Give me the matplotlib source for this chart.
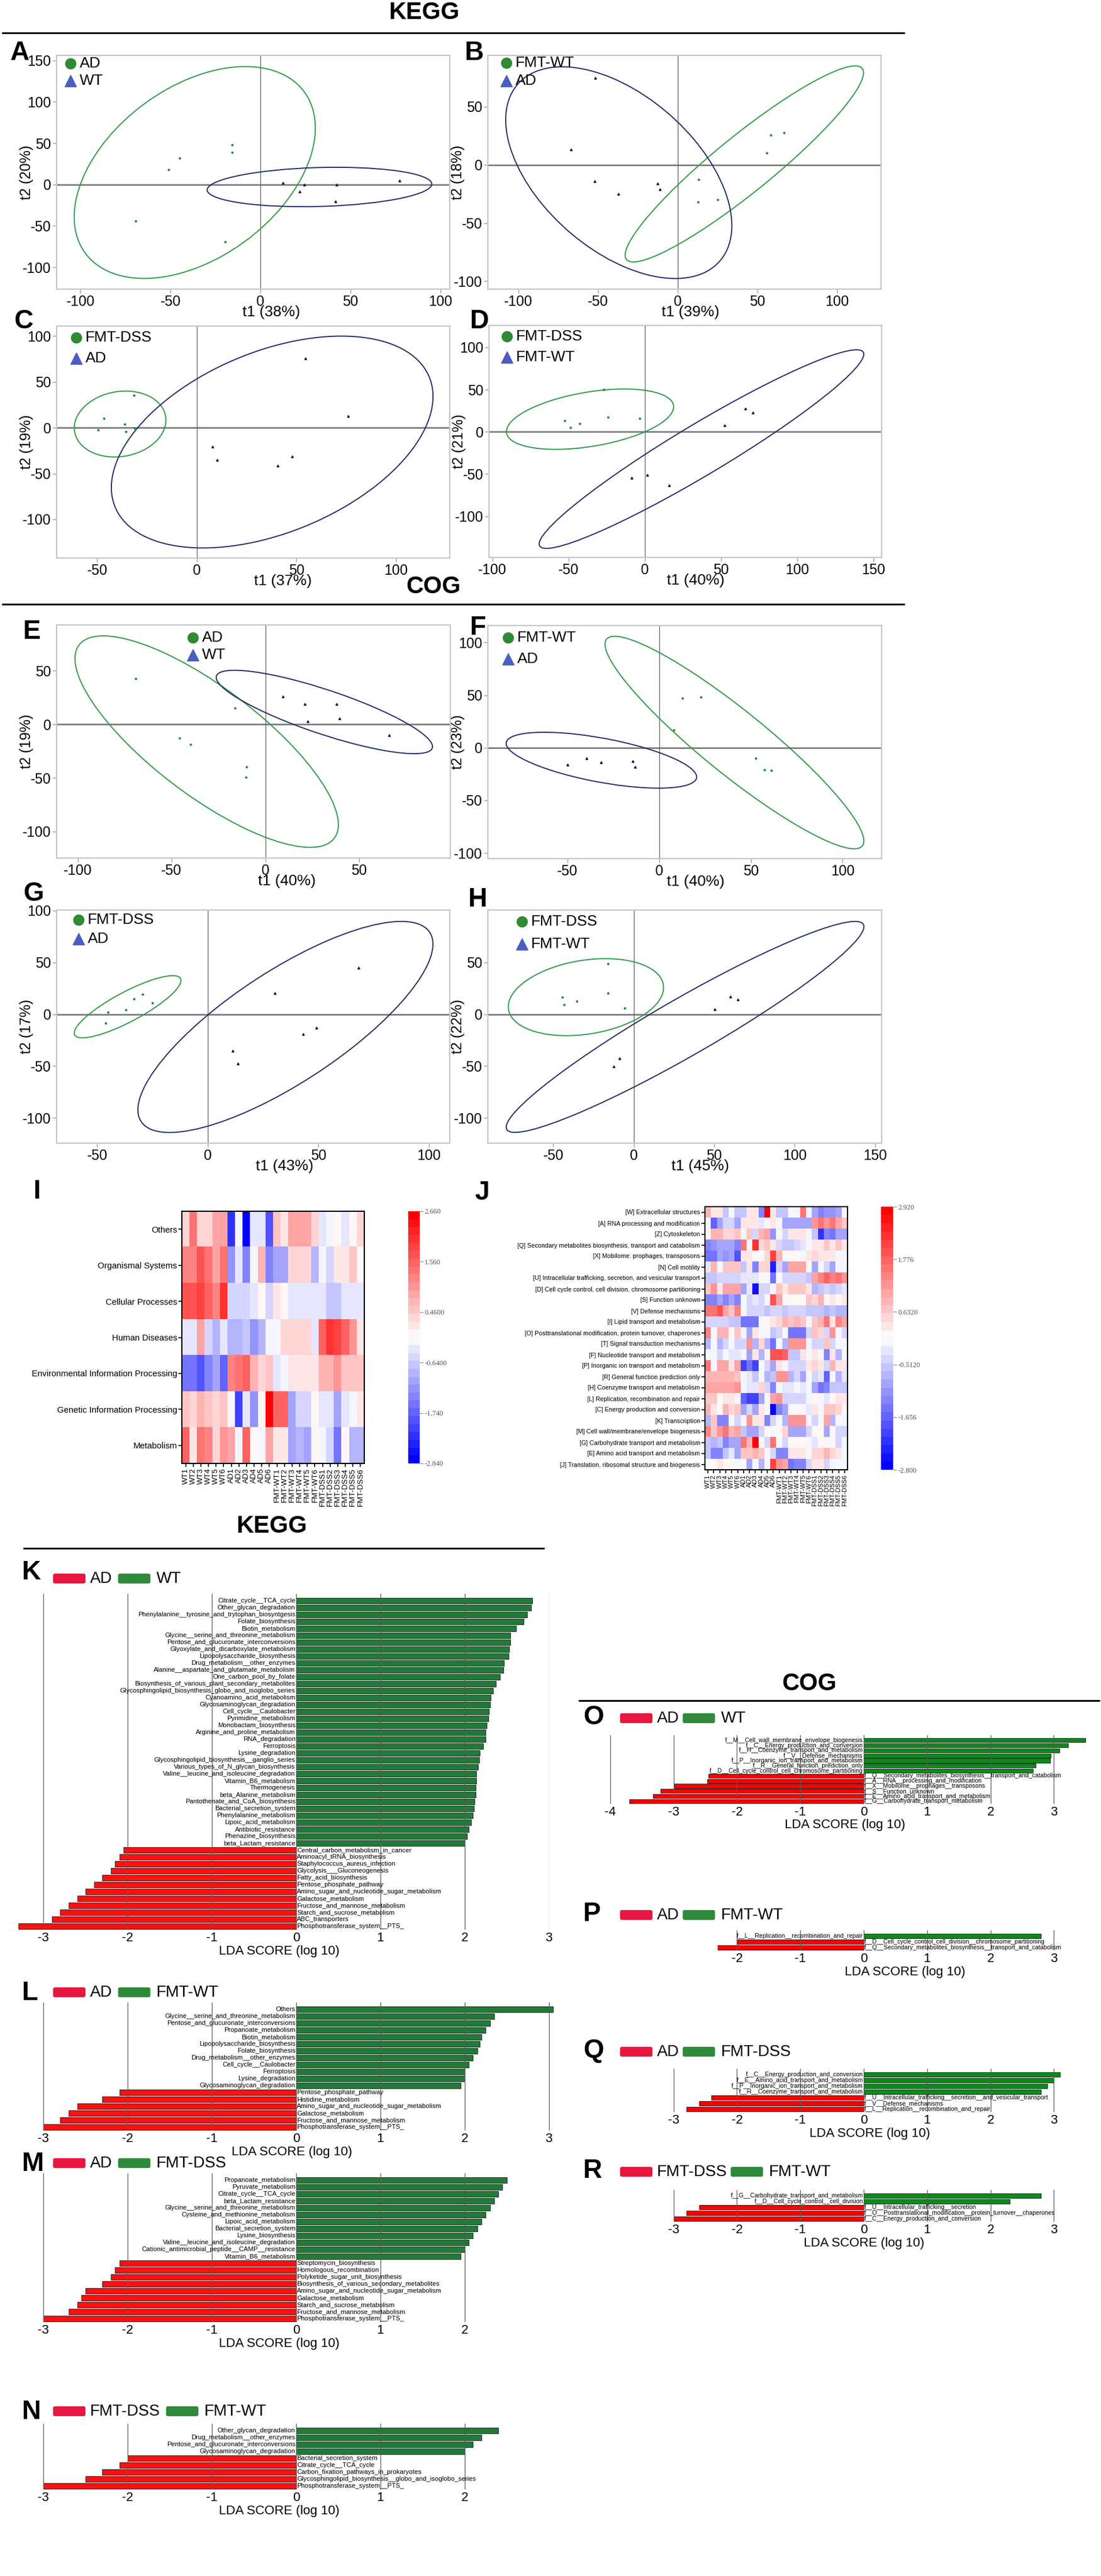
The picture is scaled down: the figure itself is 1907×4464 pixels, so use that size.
import numpy as np
import matplotlib
matplotlib.use("Agg")
import matplotlib.pyplot as plt
from matplotlib import font_manager
from matplotlib.patches import Ellipse, FancyBboxPatch

W, H = 1907, 4464
font_names = set(f.name for f in font_manager.fontManager.ttflist)
if 'Liberation Sans Narrow' in font_names:
    NARROW = ['Liberation Sans Narrow', 'DejaVu Sans']
    SHRINK = 1.0
else:
    NARROW = ['Liberation Sans', 'DejaVu Sans']
    SHRINK = 0.86
SANS = ['Liberation Sans', 'DejaVu Sans']
SERIF = ['Liberation Serif', 'DejaVu Serif']
plt.rcParams['font.family'] = NARROW
plt.rcParams['axes.unicode_minus'] = False

# ===================== PCA DATA =====================
# each panel: green group, blue group, ellipses (cx, cy, rx, ry, rho)
a_names = ['AD', 'WT']
a_gx = [-15.9, -15.9, -44.8, -51.1, -69.5, -19.5]
a_gy = [47.9, 38.6, 31.7, 17.7, -43.8, -69.2]
a_bx = [12.5, 24.5, 42.4, 77.4, 21.8, 41.6]
a_by = [1.6, -0.2, -0.4, 4.8, -8.7, -20.4]
a_gell = [-36.5, 14.5, 67, 128, 0.42]
a_bell = [32.8, -3, 62.4, 23.8, 0.15]

b_names = ['FMT-WT', 'AD']
b_gx = [58.4, 66.9, 55.8, 13.1, 12.6, 25.1]
b_gy = [25.5, 27.8, 10.3, -12.5, -32, -29.9]
b_bx = [-51.7, -66.9, -52.2, -37.4, -12.6, -11.1]
b_by = [74.6, 13.1, -14.1, -25.1, -16.1, -20.9]
b_gell = [41.85, 0.8, 74.85, 84.2, 0.93]
b_bell = [-37, -6.7, 71, 90.9, -0.5]

c_names = ['FMT-DSS', 'AD']
c_gx = [-31.7, -46.6, -36.3, -31.2, -49.5, -35.6]
c_gy = [35.4, 10.1, 3.8, -0.8, -2.2, -4.5]
c_bx = [54.4, 76, 8, 10.2, 47.8, 40.7]
c_by = [75.9, 12.9, -20.8, -35.4, -31.3, -41.3]
c_gell = [-38.5, 4, 23, 36, 0.12]
c_bell = [37.85, -15.65, 80.75, 115.65, 0.43]

d_names = ['FMT-DSS', 'FMT-WT']
d_gx = [-26.7, -24.1, -3.1, -52.6, -48.6, -42.6]
d_gy = [50.1, 16.9, 16.2, 13.3, 4.9, 9.8]
d_bx = [66.1, 70.8, 52.3, -8.5, 1.5, 16]
d_by = [27.3, 22.7, 7.8, -54.2, -51.3, -63.1]
d_gell = [-35.85, 14.9, 54.85, 35.7, 0.41]
d_bell = [37.25, -20.5, 106.45, 117.5, 0.955]

e_names = ['AD', 'WT']
e_gx = [-69.1, -16.3, -45.8, -39.8, -9.9, -10.2]
e_gy = [42.7, 15.4, -12.6, -18.7, -39.9, -49.5]
e_bx = [9.5, 21, 37.9, 22.7, 39.6, 66]
e_by = [25.8, 19.1, 18.9, 3, 5.5, -10.3]
e_gell = [-31.3, -16.15, 70.2, 98.65, -0.785]
e_bell = [31.45, 11.5, 57.65, 38.9, -0.83]

f_names = ['FMT-WT', 'AD']
f_gx = [12.5, 22.8, 8, 52.5, 57.3, 61.2]
f_gy = [47.1, 48.1, 16.9, -10.2, -20.7, -21.3]
f_bx = [-39.7, -31.8, -14.3, -50, -13.2]
f_by = [-10.2, -13.7, -12.9, -16.1, -18.2]
f_gell = [41, 4.95, 70.6, 100.95, -0.925]
f_bell = [-31.55, -11.85, 51.95, 26.55, -0.6]

g_names = ['FMT-DSS', 'AD']
g_gx = [-29.5, -33.4, -25.1, -37.1, -45.1, -46.3]
g_gy = [19.2, 15, 10.7, 4.2, 2.2, -8.8]
g_bx = [68.3, 30.4, 49.1, 43.2, 11.2, 13.5]
g_by = [44.9, 20.5, -12.8, -19, -35.1, -47.4]
g_gell = [-36.25, 7.2, 24.15, 30, 0.845]
g_bell = [35.15, -12.3, 66.75, 101.8, 0.785]

h_names = ['FMT-DSS', 'FMT-WT']
h_gx = [-16, -16.2, -44.3, -43.4, -35.4, -5.6]
h_gy = [49, 20.1, 16.7, 9.2, 12.4, 5.6]
h_bx = [59.9, 64.5, 50.4, -8.9, -12.4]
h_by = [16.9, 14.2, 5, -42.7, -50.4]
h_gell = [-29.75, 16.45, 48.25, 37.15, 0.25]
h_bell = [31.85, -12.25, 111.15, 101.75, 0.95]

# ===================== HEATMAP DATA =====================
samples = ['WT1', 'WT2', 'WT3', 'WT4', 'WT5', 'WT6', 'AD1', 'AD2', 'AD3', 'AD4', 'AD5', 'AD6',
           'FMT-WT1', 'FMT-WT2', 'FMT-WT3', 'FMT-WT4', 'FMT-WT5', 'FMT-WT6',
           'FMT-DSS1', 'FMT-DSS2', 'FMT-DSS3', 'FMT-DSS4', 'FMT-DSS5', 'FMT-DSS6']

kegg_rows = ['Others', 'Organismal Systems', 'Cellular Processes', 'Human Diseases',
             'Environmental Information Processing', 'Genetic Information Processing', 'Metabolism']
i_others = [0.4, 1.3, 0.4, 0.4, 0.9, 0.9, -2.2, -0.1, -2.8, -0.3, -0.4, -1.9, 0.5, 0.1, 0.9, 0.9, 0.9, 0.4, -0.3, -0.1, 0.05, -0.3, 0.05, 0.3]
i_organismal = [1.2, 1.2, 1.8, 1.4, 0.9, 1.4, -1.2, -0.4, -1.3, -0.2, 0.7, -1.3, -1.0, -1.0, 0.3, 0.3, 0.3, -0.8, -0.2, -0.5, 0.2, 0.1, 0.5, 0.0]
i_cellular = [1.7, 1.7, 1.9, 1.5, 1.2, 2.0, -0.6, -0.6, -0.6, -0.3, 0.0, -0.6, 0.2, 0.05, -0.3, -0.3, -0.4, -0.3, -0.4, -0.7, -0.7, -0.3, -0.4, -0.4]
i_human = [-0.4, -0.3, 0.9, -0.6, -0.9, -0.3, -0.9, -0.9, -0.7, -1.2, -0.9, -0.2, -0.1, 0.3, 0.3, 0.3, 0.3, -0.3, 1.6, 2.1, 1.9, 1.6, 1.1, 0.2]
i_env = [-1.6, -1.6, -1.9, -1.3, -1.1, -1.8, 1.2, 1.3, 1.6, 0.6, 0.4, 0.5, -0.3, -0.2, 0.1, 0.2, 0.2, 0.1, 0.6, 0.7, 1.1, 0.5, 0.5, 0.5]
i_genetic = [0.5, 0.4, 0.7, 0.5, 0.3, 0.5, -0.2, -2.1, -0.4, -1.2, 0.0, 2.66, 1.5, 1.5, -1.0, -0.6, -0.6, 0.05, -0.3, -0.3, -1.0, -0.3, -0.1, 0.1]
i_metab = [1.5, 0.2, 1.3, 1.2, 0.3, 1.0, 0.9, -0.2, 1.6, 0.05, -0.2, 0.9, 0.1, 0.1, -1.0, -0.9, -1.0, 0.0, -0.2, -0.5, -1.6, 0.0, -0.9, -0.8]
i_ticks = [2.66, 1.56, 0.46, -0.64, -1.74, -2.84]
i_tick_text = ['2.660', '1.560', '0.4600', '-0.6400', '-1.740', '-2.840']

cog_rows = ['[W] Extracellular structures', '[A] RNA processing and modification', '[Z] Cytoskeleton',
            '[Q] Secondary metabolites biosynthesis, transport and catabolism',
            '[X] Mobilome: prophages, transposons', '[N] Cell motility',
            '[U] Intracellular trafficking, secretion, and vesicular transport',
            '[D] Cell cycle control, cell division, chromosome partitioning', '[S] Function unknown',
            '[V] Defense mechanisms', '[I] Lipid transport and metabolism',
            '[O] Posttranslational modification, protein turnover, chaperones',
            '[T] Signal transduction mechanisms', '[F] Nucleotide transport and metabolism',
            '[P] Inorganic ion transport and metabolism', '[R] General function prediction only',
            '[H] Coenzyme transport and metabolism', '[L] Replication, recombination and repair',
            '[C] Energy production and conversion', '[K] Transcription',
            '[M] Cell wall/membrane/envelope biogenesis', '[G] Carbohydrate transport and metabolism',
            '[E] Amino acid transport and metabolism', '[J] Translation, ribosomal structure and biogenesis']
j_w = [0.9, 0.3, 0.3, -0.6, 0.0, -0.5, -0.5, 0.3, 0.4, -1.2, 2.9, 0.4, -0.5, -0.5, 0.0, 0.0, 1.5, 0.0, -1.0, -1.2, -1.1, -1.1, -0.9, 0.0]
j_a = [0.0, -1.6, -1.0, -0.3, -0.3, -0.9, 0.3, 0.4, 0.3, -0.2, 0.0, 0.3, 0.0, -0.9, -1.0, -1.0, -1.0, -0.9, 1.3, 1.6, 1.2, 1.5, 1.1, 0.6]
j_z = [0.0, 0.9, 0.9, 0.5, 0.5, 0.6, 0.0, 0.6, -0.4, 0.8, 1.0, -1.1, 0.0, -0.3, 0.3, 0.4, 0.3, 0.0, -0.6, -2.2, -1.3, -1.4, -1.0, -1.0]
j_q = [-1.3, -1.1, -0.9, -0.9, -1.0, -1.3, 1.5, 0.0, 2.3, 0.5, 0.7, 0.3, -0.4, -0.6, -0.6, -0.3, -0.2, 0.0, 0.3, 0.3, 0.6, 0.3, 0.7, 0.3]
j_x = [-1.5, -1.4, -1.0, -1.1, -1.0, -1.8, 0.3, 0.3, 0.1, 0.1, 0.5, 2.2, 0.8, 0.1, 0.1, 0.1, 0.0, 0.4, 0.5, 0.3, 0.3, 0.3, 0.0, 0.0]
j_n = [-0.2, 0.8, 0.0, 0.6, 0.6, 0.6, -0.5, 0.3, -1.2, 0.5, 0.5, -2.3, -0.3, -0.9, 1.0, 1.0, 1.0, 0.2, -0.9, 0.0, -0.3, -0.9, 0.0, 0.0]
j_u = [-0.5, -0.5, -0.3, -0.3, -0.4, -0.4, -0.2, -0.2, -0.2, 0.0, 0.0, -1.5, 0.0, -0.3, -0.3, -0.3, -0.3, -0.5, 1.0, 1.4, 1.7, 1.4, 1.5, 1.2]
j_d = [0.7, 1.2, 0.4, 1.0, 1.0, 1.0, -1.0, -0.2, -2.5, -0.4, -0.4, 0.0, 0.6, 0.3, 0.6, 0.6, 0.6, 0.3, -0.7, -0.5, -0.4, -0.5, -0.4, -0.2]
j_s = [-1.2, -1.2, -1.0, -1.3, -1.0, -1.2, 0.0, -0.3, -0.2, -0.4, 0.0, 2.0, 1.0, 0.2, 0.1, 0.1, 0.1, 0.6, 0.5, 0.8, 0.1, 0.3, 0.1, 0.4]
j_v = [1.6, 1.6, 1.9, 1.0, 0.7, 1.4, 0.0, -0.3, -0.4, -0.4, -0.6, -0.4, -0.4, -0.6, -0.4, -0.4, -0.4, -0.6, -0.6, -0.6, -0.8, -0.5, -0.8, -0.8]
j_i = [-0.3, -0.3, -0.3, -0.3, -0.5, -0.5, -1.4, -1.4, -1.4, 0.0, 0.2, 0.3, 0.5, 0.8, 0.6, 0.9, 0.6, 0.0, 0.6, 0.8, 1.6, 0.4, 1.4, 1.0]
j_o = [1.4, 0.0, 0.9, 0.9, 0.1, 0.6, 0.0, -1.0, 0.4, 0.0, 0.0, -0.5, -0.4, 0.0, -1.4, -1.4, -1.4, -0.4, 0.6, 0.5, -0.3, 1.2, 0.0, -0.4]
j_t = [-0.7, 0.0, -0.8, -0.4, 0.0, -0.3, -0.3, 1.3, -0.8, 0.5, -0.8, -1.5, 0.0, -0.8, 1.3, 1.3, 1.3, 0.0, -0.4, -0.4, 0.7, -0.4, 0.0, 0.0]
j_f = [0.0, 0.0, -0.3, 0.0, -0.2, -0.2, 0.0, -0.9, 0.3, -0.8, 0.0, 2.0, 2.0, 1.8, -0.6, -0.5, 0.3, 0.0, 0.3, 0.0, -1.3, 0.3, -0.7, 0.0]
j_p = [1.5, 0.0, 1.0, 1.0, 0.3, 1.0, -2.0, -1.5, -2.0, 0.0, -0.3, -0.9, 0.3, 0.0, -0.3, -0.3, -0.3, 0.3, 0.5, 0.3, -0.4, 0.8, 0.4, 0.4]
j_r = [0.8, 0.8, 0.9, 0.9, 0.8, 0.7, -0.1, -0.2, -0.5, 0.0, -0.8, -0.5, 1.3, 1.3, -0.8, -0.4, -0.9, 0.0, -0.3, -0.2, -1.6, 0.0, -0.8, -0.2]
j_h = [1.0, 1.0, 1.0, 1.0, 1.0, 1.3, 0.0, -0.2, -0.2, 0.5, -0.4, -1.3, 0.0, -0.2, -0.2, 0.0, -0.2, 0.0, -1.0, -1.4, -1.3, -0.6, -0.6, -0.6]
j_l = [0.6, 0.6, 0.1, 0.3, 0.4, 0.0, -1.6, -2.0, -2.0, -1.0, 0.0, 1.1, 1.3, -0.3, -0.3, -0.3, -0.3, 0.0, 0.2, 0.0, -0.2, 0.2, 0.4, 0.3]
j_c = [0.9, 0.4, 0.2, 0.9, 0.5, 0.7, -1.0, -0.4, -0.9, 0.3, 0.2, -2.8, -1.2, -1.0, 0.0, 0.2, 0.0, -0.2, 0.3, 0.0, 0.6, 0.6, 0.5, 0.2]
j_k = [-0.8, 0.6, -1.2, -1.2, 0.0, -0.3, 0.0, 1.3, 0.3, 0.3, -1.2, -0.4, 0.0, -0.8, 1.3, 1.3, 1.3, 0.0, -0.3, 0.0, 1.0, -0.7, 0.0, 0.0]
j_m = [1.4, 0.6, 1.3, 1.5, 0.8, 1.0, -0.5, -0.9, -0.9, -0.4, 0.2, 0.0, 0.1, 0.5, -1.0, -1.0, -1.0, -0.4, 0.1, 0.1, -0.9, 0.2, -0.3, -0.3]
j_g = [-0.5, -0.8, -0.5, -1.2, -1.0, -1.0, 1.5, 0.8, 2.9, 0.2, -0.3, 1.5, 0.0, -0.3, 0.1, 0.1, 0.1, 0.0, -0.2, 0.2, 0.0, 0.2, -0.3, 0.0]
j_e = [-0.5, -1.3, -1.3, -0.5, -0.2, -0.9, 0.7, 0.7, 0.9, 0.6, 0.0, -0.4, -1.2, -1.2, 0.3, 0.3, 0.3, 0.0, 0.5, 0.5, 0.9, 0.5, 0.4, 0.0]
j_j = [0.2, 0.2, 0.3, 0.1, 0.1, 0.0, 0.2, -1.0, 0.0, -0.8, 0.0, 2.2, 1.2, 1.0, -1.4, -1.2, -1.2, -0.4, 0.3, 0.3, -0.4, 0.0, 0.0, 0.0]
j_ticks = [2.92, 1.776, 0.632, -0.512, -1.656, -2.8]
j_tick_text = ['2.920', '1.776', '0.6320', '-0.5120', '-1.656', '-2.800']

# ===================== LEfSe DATA =====================
k_labels = ['Citrate_cycle__TCA_cycle', 'Other_glycan_degradation',
            'Phenylalanine__tyrosine_and_trytophan_biosyntgesis', 'Folate_biosynthesis', 'Biotin_metabolism',
            'Glycine__serine_and_threonine_metabolism', 'Pentose_and_glucuronate_interconversions',
            'Glyoxylate_and_dicarboxylate_metabolism', 'Lipopolysaccharide_biosynthesis',
            'Drug_metabolism__other_enzymes', 'Alanine__aspartate_and_glutamate_metabolism',
            'One_carbon_pool_by_folate', 'Biosynthesis_of_various_plant_secondary_metabolites',
            'Glycosphingolipid_biosynthesis_globo_and_isoglobo_series', 'Cyanoamino_acid_metabolism',
            'Glycosaminoglycan_degradation', 'Cell_cycle__Caulobacter', 'Pyrimidine_metabolism',
            'Monobactam_biosynthesis', 'Arginine_and_proline_metabolism', 'RNA_degradation', 'Ferroptosis',
            'Lysine_degradation', 'Glycosphingolipid_biosynthesis__ganglio_series',
            'Various_types_of_N_glycan_biosynthesis', 'Valine__leucine_and_isoleucine_degradation',
            'Vitamin_B6_metabolism', 'Thermogenesis', 'beta_Alanine_metabolism',
            'Pantothenate_and_CoA_biosynthesis', 'Bacterial_secretion_system', 'Phenylalanine_metabolism',
            'Lipoic_acid_metabolism', 'Antibiotic_resistance', 'Phenazine_biosynthesis', 'beta_Lactam_resistance',
            'Central_carbon_metabolism_in_cancer', 'Aminoacyl_tRNA_biosynthesis',
            'Staphylococcus_aureus_infection', 'Glycolysis___Gluconeogenesis', 'Fatty_acid_biosynthesis',
            'Pentose_phosphate_pathway', 'Amino_sugar_and_nucleotide_sugar_metabolism', 'Galactose_metabolism',
            'Fructose_and_mannose_metabolism', 'Starch_and_sucrose_metabolism', 'ABC_transporters',
            'Phosphotransferase_system__PTS_']
k_values = [2.80, 2.79, 2.74, 2.70, 2.61, 2.54, 2.54, 2.53, 2.52, 2.47, 2.46, 2.42, 2.37, 2.34, 2.31, 2.30,
            2.29, 2.28, 2.26, 2.25, 2.25, 2.22, 2.18, 2.17, 2.16, 2.14, 2.14, 2.13, 2.13, 2.12, 2.11, 2.10,
            2.08, 2.05, 2.03, 2.00,
            -2.05, -2.1, -2.15, -2.2, -2.3, -2.4, -2.5, -2.6, -2.7, -2.8, -2.9, -3.3]

l_labels = ['Others', 'Glycine__serine_and_threonine_metabolism', 'Pentose_and_glucuronate_interconversions',
            'Propanoate_metabolism', 'Biotin_metabolism', 'Lipopolysaccharide_biosynthesis', 'Folate_biosynthesis',
            'Drug_metabolism__other_enzymes', 'Cell_cycle__Caulobacter', 'Ferroptosis', 'Lysine_degradation',
            'Glycosaminoglycan_degradation',
            'Pentose_phosphate_pathway', 'Histidine_metabolism', 'Amino_sugar_and_nucleotide_sugar_metabolism',
            'Galactose_metabolism', 'Fructose_and_mannose_metabolism', 'Phosphotransferase_system__PTS_']
l_values = [3.05, 2.35, 2.3, 2.25, 2.2, 2.18, 2.15, 2.1, 2.05, 2.0, 2.0, 1.95,
            -2.1, -2.3, -2.6, -2.7, -2.8, -3.0]

m_labels = ['Propanoate_metabolism', 'Pyruvate_metabolism', 'Citrate_cycle__TCA_cycle', 'beta_Lactam_resistance',
            'Glycine__serine_and_threonine_metabolism', 'Cysteine_and_methionine_metabolism',
            'Lipoic_acid_metabolism', 'Bacterial_secretion_system', 'Lysine_biosynthesis',
            'Valine__leucine_and_isoleucine_degradation', 'Cationic_antimicrobial_peptide__CAMP__resistance',
            'Vitamin_B6_metabolism',
            'Streptomycin_biosynthesis', 'Homologous_recombination', 'Polyketide_sugar_unit_biosynthesis',
            'Biosynthesis_of_various_secondary_metabolites', 'Amino_sugar_and_nucleotide_sugar_metabolism',
            'Galactose_metabolism', 'Starch_and_sucrose_metabolism', 'Fructose_and_mannose_metabolism',
            'Phosphotransferase_system__PTS_']
m_values = [2.5, 2.45, 2.4, 2.35, 2.3, 2.25, 2.2, 2.15, 2.1, 2.05, 2.0, 1.95,
            -2.1, -2.15, -2.2, -2.3, -2.5, -2.55, -2.6, -2.7, -3.0]

n_labels = ['Other_glycan_degradation', 'Drug_metabolism__other_enzymes', 'Pentose_and_glucuronate_interconversions',
            'Glycosaminoglycan_degradation',
            'Bacterial_secretion_system', 'Citrate_cycle__TCA_cycle', 'Carbon_fixation_pathways_in_prokaryotes',
            'Glycosphingolipid_biosynthesis__globo_and_isoglobo_series', 'Phosphotransferase_system__PTS_']
n_values = [2.4, 2.2, 2.1, 2.0, -2.0, -2.1, -2.3, -2.5, -3.0]

o_labels = ['f__M__Cell_wall_membrane_envelope_biogenesis', 'f__C__Energy_production_and_conversion',
            'f__H__Coenzyme_transport_and_metabolism', 'f__V__Defense_mechanisms',
            'f__P__Inorganic_ion_transport_and_metabolism', 'f__R__General_function_prediction_only',
            'f__D__Cell_cycle_control_cell_chromosome_partitioning',
            'f__Q__Secondary_metabolites_biosynthesis__transport_and_catabolism',
            'f__A__RNA__processing_and_modification', 'f__X__Mobilome__prophages__transposons',
            'f__S__Function_unknown', 'f__E__Amino_acid_transport_and_metabolism',
            'f__G__Carbohydrate_transport_metabolism']
o_values = [3.50, 3.22, 3.09, 2.95, 2.94, 2.71, 2.67, -2.45, -2.47, -2.99, -3.21, -3.32, -3.70]

p_labels = ['f__L__Replication__recombination_and_repair',
            'f__D__Cell_cycle_control_cell_division__chromosome_partitioning',
            'f__Q__Secondary_metabolites_biosynthesis__transport_and_catabolism']
p_values = [2.8, -2.0, -2.4]

q_labels = ['f__C__Energy_production_and_conversion', 'f__E__Amino_acid_transport_and_metabolism',
            'f__P__Inorganic_ion_transport_and_metabolism', 'f__H__Coenzyme_transport_and_metabolism',
            'f__U__Intracellular_trafficking__secretion__and_vesicular_transport', 'f__V__Defense_mechanisms',
            'f__L__Replication__recombination_and_repair']
q_values = [3.1, 3.0, 2.9, 2.8, -2.4, -2.6, -2.8]

r_labels = ['f__G__Carbohydrate_transport_and_metabolism', 'f__D__Cell_cycle_control__cell_division',
            'f__U__Intracellular_trafficking__secretion', 'f__O__Posttranslational_modification__protein_turnover__chaperones',
            'f__C__Energy_production_and_conversion']
r_values = [2.8, 2.3, -2.6, -2.8, -3.0]

# ===================== FIGURE =====================
fig = plt.figure(figsize=(W / 100, H / 100), dpi=100)
bg = fig.add_axes([0, 0, 1, 1])
bg.set_xlim(0, W)
bg.set_ylim(H, 0)
bg.axis('off')
renderer = fig.canvas.get_renderer()


def box_px(x0, y0, x1, y1):
    return [x0 / W, 1 - y1 / H, (x1 - x0) / W, (y1 - y0) / H]


def letter(x, y, s):
    bg.text(x, y, s, fontsize=33, fontweight='bold', va='top', ha='left')


def section(x, y, s, x0, x1, yl):
    bg.text(x, y, s, fontsize=30, fontweight='bold', ha='center', va='center')
    bg.plot([x0, x1], [yl, yl], color='black', lw=2.2, solid_capstyle='butt')


def ellipse(p, color):
    cx, cy, rx, ry, rho = p
    cov = np.array([[rx * rx, rho * rx * ry], [rho * rx * ry, ry * ry]])
    vals, vecs = np.linalg.eigh(cov)
    ang = np.degrees(np.arctan2(vecs[1, 1], vecs[0, 1]))
    return Ellipse((cx, cy), 2 * np.sqrt(vals[1]), 2 * np.sqrt(vals[0]), angle=ang,
                   fill=False, ec=color, lw=1.4, zorder=2)


def pca(bx, xlim, ylim, xt, yt, gx, gy, bxs, bys, gell, bell, names, xlab, ylab, xlab_x, leg):
    ax = fig.add_axes(box_px(*bx))
    ax.set_xlim(xlim)
    ax.set_ylim(ylim)
    ax.axhline(0, color='#7d7d7d', lw=2.0, zorder=1)
    ax.axvline(0, color='#5c5c5c', lw=0.9, zorder=1)
    ax.add_patch(ellipse(gell, '#2f9b46'))
    ax.add_patch(ellipse(bell, '#222a6c'))
    ax.plot(gx, gy, 'o', ms=2.0, color='#1f8a3a', ls='none', zorder=3)
    ax.plot(bxs, bys, '^', ms=2.6, color='#15184a', ls='none', zorder=3)
    ax.set_xticks(xt)
    ax.set_yticks(yt)
    ax.tick_params(labelsize=19 * (SHRINK + 1) / 2, length=5, width=1, color='#9a9a9a', pad=2)
    for s in ax.spines.values():
        s.set_color('#c6c6c6')
        s.set_linewidth(1.6)
    w = bx[2] - bx[0]
    h = bx[3] - bx[1]
    lx, ly, gap = leg
    ax.plot(lx / w, 1 - ly / h, 'o', ms=13, color='#2e8a33', transform=ax.transAxes, clip_on=False)
    ax.plot(lx / w, 1 - (ly + gap) / h, '^', ms=14, color='#4a5ec2', transform=ax.transAxes, clip_on=False)
    ax.text((lx + 16) / w, 1 - ly / h, names[0], fontsize=19, va='center', transform=ax.transAxes)
    ax.text((lx + 16) / w, 1 - (ly + gap) / h, names[1], fontsize=19, va='center', transform=ax.transAxes)
    bg.text(xlab_x, bx[3] + 28, xlab, fontsize=19, ha='center', va='top')
    bg.text(bx[0] - 40, (bx[1] + bx[3]) / 2, ylab, fontsize=18, family=SANS, rotation=90,
            ha='right', va='center')


# ===================== KEGG PCA =====================
section(735, 22, 'KEGG', 3, 1567, 57)
letter(18, 70, 'A')
pca((98, 96, 779, 501), (-113.3, 105.2), (-126.4, 156), [-100, -50, 0, 50, 100], [-100, -50, 0, 50, 100, 150],
    a_gx, a_gy, a_bx, a_by, a_gell, a_bell, a_names, 't1 (38%)', 't2 (20%)', 470, (24, 14, 30))
letter(805, 70, 'B')
pca((845, 96, 1526, 501), (-119.2, 127.7), (-106.7, 94), [-100, -50, 0, 50, 100], [-100, -50, 0, 50],
    b_gx, b_gy, b_bx, b_by, b_gell, b_bell, b_names, 't1 (39%)', 't2 (18%)', 1196, (32, 13, 31))
letter(24, 535, 'C')
pca((98, 565, 779, 967), (-70.4, 127), (-142.3, 111), [-50, 0, 50, 100], [-100, -50, 0, 50, 100],
    c_gx, c_gy, c_bx, c_by, c_gell, c_bell, c_names, 't1 (37%)', 't2 (19%)', 490, (34, 20, 36))
letter(814, 535, 'D')
pca((847, 564, 1527, 966), (-102.1, 155.4), (-148.7, 125.8), [-100, -50, 0, 50, 100, 150], [-100, -50, 0, 50, 100],
    d_gx, d_gy, d_bx, d_by, d_gell, d_bell, d_names, 't1 (40%)', 't2 (21%)', 1205, (31, 19, 36))

# ===================== COG PCA =====================
section(751, 1017, 'COG', 3, 1567, 1047)
letter(40, 1073, 'E')
pca((98, 1083, 780, 1487), (-111.3, 98.6), (-124.8, 92.7), [-100, -50, 0, 50], [-100, -50, 0, 50],
    e_gx, e_gy, e_bx, e_by, e_gell, e_bell, e_names, 't1 (40%)', 't2 (19%)', 497, (236, 22, 30))
letter(814, 1066, 'F')
pca((845, 1084, 1527, 1488), (-93.5, 121.3), (-105.4, 116.1), [-50, 0, 50, 100], [-100, -50, 0, 50, 100],
    f_gx, f_gy, f_bx, f_by, f_gell, f_bell, f_names, 't1 (40%)', 't2 (23%)', 1205, (35, 21, 37))
letter(40, 1527, 'G')
pca((98, 1577, 779, 1981), (-68.4, 109.5), (-124.4, 100.5), [-50, 0, 50, 100], [-100, -50, 0, 50, 100],
    g_gx, g_gy, g_bx, g_by, g_gell, g_bell, g_names, 't1 (43%)', 't2 (17%)', 493, (38, 17, 33))
letter(811, 1537, 'H')
pca((845, 1577, 1527, 1981), (-90.7, 154), (-124.4, 100.5), [-50, 0, 50, 100, 150], [-100, -50, 0, 50],
    h_gx, h_gy, h_bx, h_by, h_gell, h_bell, h_names, 't1 (45%)', 't2 (22%)', 1213, (59, 20, 39))

# ===================== HEATMAPS =====================
hm_cmap = plt.get_cmap('bwr', 32)


def heatmap(bx, cbx, rows, vmin, vmax, row_names, ticks, tick_text, rfs, cfs):
    ax = fig.add_axes(box_px(*bx))
    im = ax.imshow(np.array(rows), cmap=hm_cmap, vmin=vmin, vmax=vmax, aspect='auto', interpolation='nearest')
    ax.set_yticks(range(len(row_names)))
    ax.set_yticklabels(row_names, fontsize=rfs)
    ax.set_xticks(range(len(samples)))
    ax.set_xticklabels(samples, rotation=90, fontsize=cfs, family=SANS)
    ax.tick_params(length=4, width=1.2, color='black', pad=2)
    for s in ax.spines.values():
        s.set_linewidth(1.5)
    cax = fig.add_axes(box_px(*cbx))
    cb = fig.colorbar(im, cax=cax)
    cb.outline.set_visible(False)
    cb.set_ticks(ticks)
    cb.set_ticklabels(tick_text)
    cax.tick_params(labelsize=9, length=4, width=0.8, color='#888888', labelcolor='#555555', pad=2)
    for t in cax.get_yticklabels():
        t.set_family(SERIF)


letter(58, 2043, 'I')
heatmap((315, 2099, 631, 2536), (707, 2099, 727, 2536),
        [i_others, i_organismal, i_cellular, i_human, i_env, i_genetic, i_metab],
        -2.84, 2.66, kegg_rows, i_ticks, i_tick_text, 12.5 * SHRINK, 9.5)

letter(822, 2045, 'J')
heatmap((1221, 2091, 1468, 2547), (1526, 2091, 1547, 2547),
        [j_w, j_a, j_z, j_q, j_x, j_n, j_u, j_d, j_s, j_v, j_i, j_o, j_t, j_f, j_p, j_r, j_h,
         j_l, j_c, j_k, j_m, j_g, j_e, j_j],
        -2.8, 2.92, cog_rows, j_ticks, j_tick_text, 9 * SHRINK, 8)


# ===================== LEfSe =====================
def legend_bar(x, y, n1, n2, c1, c2, w1=56, gap=10):
    bg.add_patch(FancyBboxPatch((x, y), w1, 17, boxstyle='round,pad=0,rounding_size=3', fc=c1, ec='none'))
    t1 = bg.text(x + w1 + 8, y + 9, n1, fontsize=20, va='center')
    tw = t1.get_window_extent(renderer=renderer).width
    x2 = x + w1 + 8 + tw + gap
    bg.add_patch(FancyBboxPatch((x2, y), w1, 17, boxstyle='round,pad=0,rounding_size=3', fc=c2, ec='none'))
    bg.text(x2 + w1 + 10, y + 9, n2, fontsize=20, va='center')


def lda(zero_x, unit_x, xlim, top, unit_y, labels, values, grid, fs, green, red, label_size=16):
    n = len(values)
    x0 = zero_x + xlim[0] * unit_x
    x1 = zero_x + xlim[1] * unit_x
    y1 = top + (n + 0.5) * unit_y
    ax = fig.add_axes(box_px(x0, top, x1, y1))
    ax.patch.set_alpha(0)
    ys = np.arange(n)
    cols = [green if v > 0 else red for v in values]
    ax.barh(ys, values, height=0.8, color=cols, edgecolor='#1a1a1a', linewidth=0.6, zorder=2)
    for g in grid:
        ax.axvline(g, color='#5a5a5a', lw=0.9, zorder=3)
    for y, v, t in zip(ys, values, labels):
        if v > 0:
            ax.text(-0.01, y, t, ha='right', va='center', fontsize=fs, zorder=4)
        else:
            ax.text(0.01, y, t, ha='left', va='center', fontsize=fs, zorder=4)
    ax.set_xlim(xlim)
    ax.set_ylim(n - 0.5, -1.0)
    ax.set_yticks([])
    ax.set_xticks(grid)
    ax.set_xticklabels([str(g) for g in grid])
    for s in ax.spines.values():
        s.set_visible(False)
    ax.tick_params(axis='x', length=0, labelsize=label_size, pad=3)
    ax.set_xlabel('LDA SCORE (log 10)', fontsize=label_size, labelpad=1)
    return ax


K_GREEN = '#217a38'
K_RED = '#ff1010'
LEG_RED = '#e8173f'
LEG_GREEN = '#2e8a3a'
LF = 9.5 * SHRINK
RF = 8.8 * SHRINK

section(471, 2645, 'KEGG', 40, 943, 2683)
letter(38, 2703, 'K')
legend_bar(92, 2727, 'AD', 'WT', LEG_RED, LEG_GREEN)
lda(513, 145.9, (-3.4, 3.0), 2762, 12.0, k_labels, k_values, [-3, -2, -1, 0, 1, 2, 3], LF, K_GREEN, K_RED)

letter(38, 3432, 'L')
legend_bar(92, 3444, 'AD', 'FMT-WT', LEG_RED, LEG_GREEN)
lda(513, 145.9, (-3.4, 3.3), 3470, 12.0, l_labels, l_values, [-3, -2, -1, 0, 1, 2, 3], LF, K_GREEN, K_RED)

letter(38, 3728, 'M')
legend_bar(92, 3740, 'AD', 'FMT-DSS', LEG_RED, LEG_GREEN)
lda(513, 145.9, (-3.4, 3.0), 3766, 12.0, m_labels, m_values, [-3, -2, -1, 0, 1, 2], LF, K_GREEN, K_RED)

letter(38, 4158, 'N')
legend_bar(92, 4170, 'FMT-DSS', 'FMT-WT', LEG_RED, LEG_GREEN)
lda(513, 145.9, (-3.4, 3.0), 4200, 12.0, n_labels, n_values, [-3, -2, -1, 0, 1, 2], LF, K_GREEN, K_RED)

section(1402, 2918, 'COG', 1002, 1905, 2947)
letter(1010, 2954, 'O')
legend_bar(1074, 2969, 'AD', 'WT', LEG_RED, LEG_GREEN, gap=6)
lda(1496, 109.8, (-4.2, 3.6), 3007, 8.8, o_labels, o_values, [-4, -3, -2, -1, 0, 1, 2, 3], RF, '#0b8a1c', '#ff0000')

letter(1010, 3295, 'P')
legend_bar(1074, 3310, 'AD', 'FMT-WT', LEG_RED, LEG_GREEN, gap=6)
lda(1496, 109.8, (-2.3, 3.6), 3345, 10, p_labels, p_values, [-2, -1, 0, 1, 2, 3], RF, '#0b8a1c', '#ff0000')

letter(1010, 3532, 'Q')
legend_bar(1074, 3547, 'AD', 'FMT-DSS', LEG_RED, LEG_GREEN, gap=6)
lda(1496, 109.8, (-3.2, 3.4), 3585, 10, q_labels, q_values, [-3, -2, -1, 0, 1, 2, 3], RF, '#0b8a1c', '#ff0000')

letter(1010, 3740, 'R')
legend_bar(1074, 3755, 'FMT-DSS', 'FMT-WT', LEG_RED, LEG_GREEN, gap=6)
lda(1496, 109.8, (-3.4, 3.4), 3795, 10, r_labels, r_values, [-3, -2, -1, 0, 1, 2, 3], RF, '#0b8a1c', '#ff0000')

fig.savefig('out.png', dpi=100, facecolor='white')
